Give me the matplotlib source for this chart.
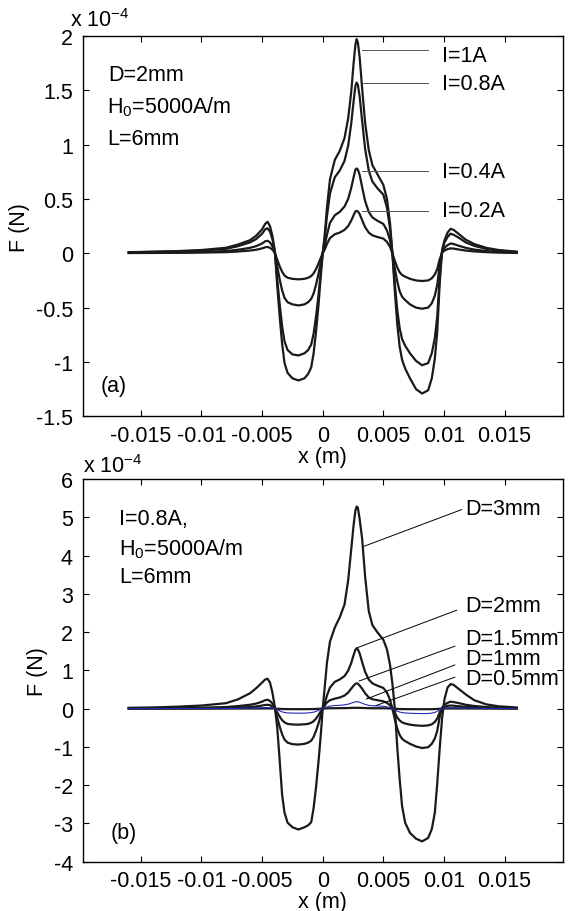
import numpy as np
import matplotlib.pyplot as plt

plt.rcParams['font.family'] = ['Liberation Sans', 'DejaVu Sans']
plt.rcParams['axes.unicode_minus'] = False
plt.rcParams['mathtext.default'] = 'regular'

# x positions in mm (same grid for every curve)
x_mm = [-16, -14, -12, -10, -8, -7, -6, -5.5, -5, -4.75,
        -4.55, -4.35, -4.15, -3.95, -3.75, -3.55, -3.35, -3.15, -2.9, -2.5,
        -2.0, -1.5, -1.2, -0.95, -0.75, -0.55, -0.35, -0.15, 0, 0.15,
        0.35, 0.6, 1.0, 1.4, 1.8, 2.1, 2.35, 2.55, 2.7, 2.8,
        2.9, 3.05, 3.25, 3.5, 3.8, 4.1, 4.5, 5.0, 5.3, 5.55,
        5.75, 5.95, 6.15, 6.35, 6.55, 6.8, 7.2, 7.7, 8.2, 8.7,
        9.0, 9.25, 9.45, 9.65, 9.85, 10.05, 10.3, 10.55, 10.8, 11.2,
        11.8, 12.5, 13.5, 14.5, 16]

# panel (a) : force in units of 1e-4 N, D=2mm, different currents
f_i1 = [0.01, 0.015, 0.02, 0.03, 0.05, 0.08, 0.12, 0.16, 0.22, 0.27,
        0.29, 0.25, 0.16, 0.02, -0.30, -0.58, -0.83, -1.01, -1.10, -1.15,
        -1.17, -1.15, -1.11, -1.05, -0.92, -0.72, -0.48, -0.20, 0.0, 0.15,
        0.42, 0.68, 0.86, 0.94, 1.06, 1.24, 1.48, 1.75, 1.92, 1.97,
        1.94, 1.80, 1.52, 1.20, 0.95, 0.81, 0.73, 0.63, 0.50, 0.28,
        0.0, -0.35, -0.65, -0.86, -0.98, -1.06, -1.15, -1.25, -1.29, -1.26,
        -1.15, -0.97, -0.72, -0.28, 0.03, 0.12, 0.19, 0.225, 0.215, 0.18,
        0.125, 0.085, 0.05, 0.03, 0.015]
f_i08 = [0.008, 0.012, 0.016, 0.024, 0.04, 0.065, 0.10, 0.13, 0.18, 0.22,
         0.23, 0.20, 0.13, 0.02, -0.24, -0.47, -0.67, -0.81, -0.89, -0.93,
         -0.94, -0.92, -0.89, -0.84, -0.74, -0.58, -0.39, -0.16, 0.0, 0.12,
         0.34, 0.55, 0.70, 0.76, 0.85, 0.99, 1.19, 1.40, 1.54, 1.57,
         1.55, 1.44, 1.22, 0.96, 0.76, 0.66, 0.60, 0.54, 0.42, 0.23,
         0.0, -0.28, -0.52, -0.69, -0.79, -0.85, -0.92, -0.99, -1.03, -1.01,
         -0.92, -0.78, -0.58, -0.22, 0.02, 0.10, 0.15, 0.18, 0.17, 0.145,
         0.10, 0.068, 0.04, 0.024, 0.012]
f_i04 = [0.004, 0.006, 0.008, 0.012, 0.02, 0.032, 0.05, 0.065, 0.09, 0.11,
         0.115, 0.10, 0.065, 0.01, -0.12, -0.24, -0.34, -0.41, -0.45, -0.47,
         -0.48, -0.47, -0.45, -0.42, -0.37, -0.29, -0.19, -0.08, 0.0, 0.06,
         0.17, 0.28, 0.35, 0.38, 0.43, 0.50, 0.60, 0.70, 0.77, 0.78,
         0.77, 0.72, 0.61, 0.48, 0.38, 0.33, 0.30, 0.27, 0.21, 0.12,
         0.0, -0.14, -0.26, -0.35, -0.40, -0.43, -0.47, -0.50, -0.51, -0.50,
         -0.46, -0.39, -0.29, -0.11, 0.01, 0.05, 0.075, 0.09, 0.085, 0.07,
         0.05, 0.034, 0.02, 0.012, 0.006]
f_i02 = [0.002, 0.003, 0.004, 0.006, 0.01, 0.016, 0.025, 0.032, 0.045, 0.055,
         0.058, 0.05, 0.033, 0.005, -0.06, -0.12, -0.17, -0.205, -0.225, -0.235,
         -0.24, -0.235, -0.225, -0.21, -0.185, -0.145, -0.095, -0.04, 0.0, 0.03,
         0.085, 0.14, 0.175, 0.19, 0.215, 0.25, 0.30, 0.35, 0.385, 0.39,
         0.385, 0.36, 0.305, 0.24, 0.19, 0.165, 0.15, 0.135, 0.105, 0.06,
         0.0, -0.07, -0.13, -0.175, -0.20, -0.215, -0.235, -0.25, -0.255, -0.25,
         -0.23, -0.195, -0.145, -0.055, 0.005, 0.025, 0.038, 0.045, 0.043, 0.035,
         0.025, 0.017, 0.01, 0.006, 0.003]

# panel (b) : I=0.8A, different diameters
f_d3 = [0.02, 0.03, 0.05, 0.08, 0.14, 0.24, 0.40, 0.53, 0.68, 0.76,
        0.78, 0.68, 0.42, 0.05, -0.50, -1.35, -2.25, -2.72, -2.98, -3.10,
        -3.16, -3.10, -3.05, -2.97, -2.60, -2.05, -1.40, -0.65, 0.0, 0.50,
        1.2, 1.75, 2.12, 2.38, 2.72, 3.35, 4.15, 4.80, 5.18, 5.28,
        5.25, 4.95, 4.45, 3.45, 2.55, 2.18, 2.0, 1.80, 1.55, 1.15,
        0.65, 0.0, -1.0, -1.85, -2.55, -2.98, -3.25, -3.40, -3.47, -3.38,
        -3.15, -2.72, -1.95, -1.05, -0.25, 0.25, 0.55, 0.64, 0.62, 0.52,
        0.37, 0.22, 0.11, 0.06, 0.03]
f_d2 = f_i08  # D=2mm, I=0.8A is the same case as in (a)
f_d15 = [0.002, 0.003, 0.005, 0.008, 0.015, 0.025, 0.04, 0.055, 0.08, 0.095,
         0.10, 0.09, 0.055, 0.005, -0.10, -0.21, -0.30, -0.36, -0.40, -0.415,
         -0.42, -0.41, -0.40, -0.37, -0.33, -0.26, -0.17, -0.07, 0.0, 0.07,
         0.16, 0.22, 0.26, 0.29, 0.34, 0.42, 0.52, 0.60, 0.65, 0.66,
         0.65, 0.60, 0.52, 0.40, 0.29, 0.245, 0.22, 0.19, 0.15, 0.09,
         0.0, -0.12, -0.23, -0.31, -0.36, -0.39, -0.42, -0.44, -0.45, -0.44,
         -0.41, -0.35, -0.26, -0.10, 0.01, 0.045, 0.07, 0.08, 0.075, 0.062,
         0.045, 0.03, 0.015, 0.009, 0.004]
f_d1 = [0.0, 0.0, 0.001, 0.002, 0.004, 0.007, 0.011, 0.015, 0.021, 0.025,
        0.026, 0.023, 0.015, 0.0, -0.03, -0.06, -0.085, -0.103, -0.113, -0.118,
        -0.12, -0.118, -0.113, -0.105, -0.093, -0.073, -0.048, -0.02, 0.0, 0.02,
        0.045, 0.065, 0.08, 0.085, 0.098, 0.115, 0.14, 0.163, 0.177, 0.18,
        0.178, 0.165, 0.14, 0.11, 0.085, 0.075, 0.07, 0.06, 0.045, 0.025,
        0.0, -0.035, -0.065, -0.09, -0.105, -0.113, -0.122, -0.128, -0.13, -0.128,
        -0.118, -0.10, -0.075, -0.03, 0.002, 0.012, 0.019, 0.022, 0.021, 0.018,
        0.013, 0.009, 0.005, 0.003, 0.001]
f_d05 = [0.0, 0.0, 0.0, 0.0, 0.0005, 0.001, 0.0015, 0.002, 0.003, 0.0035,
         0.004, 0.0035, 0.002, 0.0, -0.004, -0.008, -0.011, -0.013, -0.014, -0.015,
         -0.015, -0.015, -0.014, -0.013, -0.012, -0.009, -0.006, -0.003, 0.0, 0.003,
         0.006, 0.008, 0.01, 0.011, 0.013, 0.015, 0.018, 0.02, 0.021, 0.021,
         0.021, 0.02, 0.017, 0.014, 0.011, 0.009, 0.009, 0.008, 0.006, 0.003,
         0.0, -0.004, -0.008, -0.011, -0.013, -0.014, -0.015, -0.016, -0.016, -0.016,
         -0.015, -0.013, -0.01, -0.004, 0.0, 0.0015, 0.0025, 0.003, 0.003, 0.0025,
         0.002, 0.001, 0.0007, 0.0004, 0.0002]

xtick_vals = [-0.015, -0.01, -0.005, 0, 0.005, 0.01, 0.015]
xtick_labels = ['-0.015', '-0.01', '-0.005', '0', '0.005', '0.01', '0.015']
ytick_a = [-1.5, -1, -0.5, 0, 0.5, 1, 1.5, 2]
ytick_a_labels = ['-1.5', '-1', '-0.5', '0', '0.5', '1', '1.5', '2']
ytick_b = [-4, -3, -2, -1, 0, 1, 2, 3, 4, 5, 6]
ytick_b_labels = ['-4', '-3', '-2', '-1', '0', '1', '2', '3', '4', '5', '6']

labels_a = ['I=1A', 'I=0.8A', 'I=0.4A', 'I=0.2A']
labels_b = ['D=3mm', 'D=2mm', 'D=1.5mm', 'D=1mm', 'D=0.5mm']

x = np.array(x_mm) * 1e-3
fs = 15.5


def style(ax, yt, ytl, ylim):
    ax.set_xlim(-0.0198, 0.0198)
    ax.set_ylim(*ylim)
    ax.set_xticks(xtick_vals)
    ax.set_xticklabels(xtick_labels)
    ax.set_yticks(yt)
    ax.set_yticklabels(ytl)
    ax.tick_params(direction='in', top=True, right=True, length=4, width=0.8,
                   labelsize=fs)
    ax.tick_params(axis='x', pad=6)
    ax.tick_params(axis='y', pad=7)
    for s in ax.spines.values():
        s.set_linewidth(1.0)
    ax.set_xlabel('x (m)', fontsize=fs, labelpad=0)
    ax.set_ylabel('F (N)', fontsize=fs, labelpad=4)


fig = plt.figure(figsize=(5.7, 9.12), dpi=100)
ax_a = fig.add_axes([0.1451, 0.5424, 0.8421, 0.4172])
ax_b = fig.add_axes([0.1451, 0.0541, 0.8421, 0.4196])

# ---- (a)
lw = 1.6
for f in [f_i02, f_i04, f_i08, f_i1]:
    ax_a.plot(x, f, color='#1a1a1a', lw=lw)
style(ax_a, ytick_a, ytick_a_labels, (-1.5, 2))

ann_a_y = [1.867, 1.563, 0.757, 0.39]
ann_a_ty = [1.82, 1.56, 0.75, 0.39]
for lab, ly, ty in zip(labels_a, ann_a_y, ann_a_ty):
    ax_a.plot([0.00322, 0.00871], [ly, ly], color='#555555', lw=0.7)
    ax_a.text(0.00982, ty, lab, fontsize=fs, va='center', ha='left')

ax_a.text(-0.01767, 1.64, 'D=2mm', fontsize=fs, va='center')
ax_a.text(-0.0178, 1.35, 'H$_0$=5000A/m', fontsize=fs, va='center')
ax_a.text(-0.0178, 1.055, 'L=6mm', fontsize=fs, va='center')
ax_a.text(-0.0183, -1.22, '(a)', fontsize=fs, va='center')
ax_a.text(-0.026, 1.042, 'x 10$^{-4}$', fontsize=fs, transform=ax_a.transAxes,
          va='center', ha='left')

# ---- (b)
for f in [f_d05, f_d15, f_d2, f_d3]:
    ax_b.plot(x, f, color='#1a1a1a', lw=lw)
ax_b.plot(x, f_d1, color='#2828b4', lw=0.8)
style(ax_b, ytick_b, ytick_b_labels, (-4, 6))

ann_b_start = [(0.0034, 4.24), (0.0028, 1.585), (0.0030, 0.72), (0.0036, 0.25), (0.0044, 0.08)]
ann_b_end = [(0.01146, 5.2), (0.01105, 2.57), (0.0109, 1.63), (0.0109, 1.14), (0.0109, 0.82)]
ann_b_ty = [5.24, 2.70, 1.82, 1.32, 0.78]
for lab, (x0, y0), (x1, y1), ty in zip(labels_b, ann_b_start, ann_b_end, ann_b_ty):
    ax_b.plot([x0, x1], [y0, y1], color='k', lw=0.7)
    ax_b.text(0.01175, ty, lab, fontsize=fs, va='center', ha='left')

ax_b.text(-0.0168, 4.98, 'I=0.8A,', fontsize=fs, va='center')
ax_b.text(-0.0168, 4.2, 'H$_0$=5000A/m', fontsize=fs, va='center')
ax_b.text(-0.0168, 3.46, 'L=6mm', fontsize=fs, va='center')
ax_b.text(-0.0175, -3.25, '(b)', fontsize=fs, va='center')
ax_b.text(0.001, 1.035, 'x 10$^{-4}$', fontsize=fs, transform=ax_b.transAxes,
          va='center', ha='left')

fig.savefig('out.png', dpi=100)
